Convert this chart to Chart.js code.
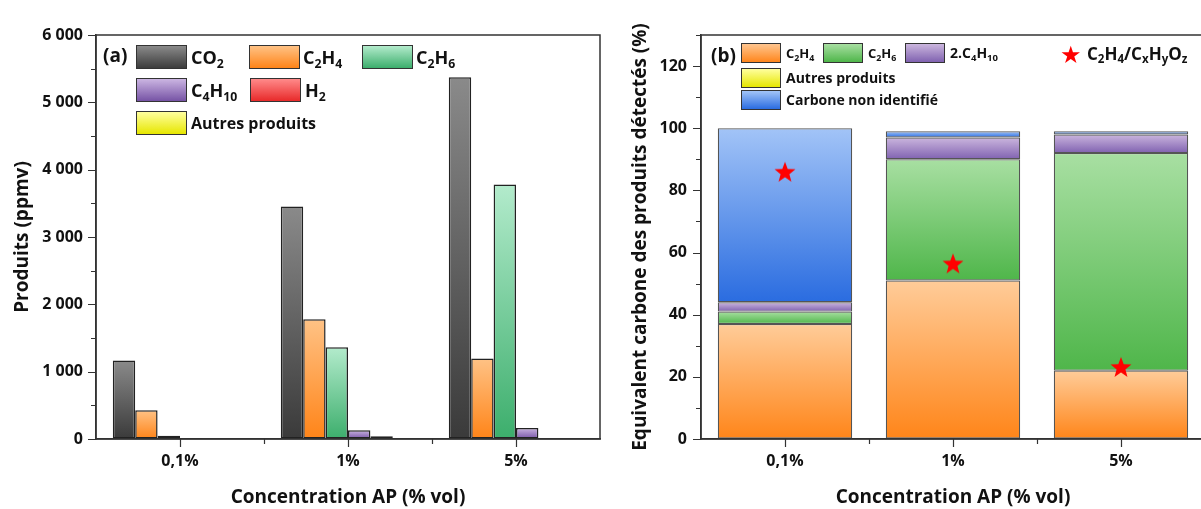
<!DOCTYPE html>
<html>
<head>
<meta charset="utf-8">
<script src="https://cdn.jsdelivr.net/npm/chart.js@4.4.1/dist/chart.umd.min.js"></script>
<style>
  body { margin: 0; width: 1201px; height: 509px; overflow: hidden; background: #fff; position: relative;
         font-family: 'Open Sans', sans-serif; font-weight: 700; color: #111; }
  #boxA { position: absolute; left: 0; top: 0; width: 610px; height: 509px; }
  #boxB { position: absolute; left: 610px; top: 0; width: 600px; height: 509px; }
  .lg { position: absolute; white-space: nowrap; }
  .sw { position: absolute; border: 1px solid #333; box-sizing: border-box; }
  sub { font-size: 68%; vertical-align: -0.3em; line-height: 0; }
</style>
</head>
<body>
<div id="boxA"><canvas id="chartA" width="610" height="509"></canvas></div>
<div id="boxB"><canvas id="chartB" width="600" height="509"></canvas></div>

<!-- legend (a) -->
<div class="lg" style="left:103px;top:43px;font-size:19px;line-height:24px;">(a)</div>
<div class="sw" style="left:136px;top:45px;width:51px;height:24px;background:linear-gradient(#8a8a8a,#3c3c3c);"></div>
<div class="lg" style="left:191px;top:45px;font-size:18px;line-height:24px;">CO<sub>2</sub></div>
<div class="sw" style="left:249px;top:45px;width:51px;height:24px;background:linear-gradient(#ffc285,#ff8418);"></div>
<div class="lg" style="left:303px;top:45px;font-size:18px;line-height:24px;">C<sub>2</sub>H<sub>4</sub></div>
<div class="sw" style="left:362px;top:45px;width:51px;height:24px;background:linear-gradient(#b3ebcc,#3cae6c);"></div>
<div class="lg" style="left:416px;top:45px;font-size:18px;line-height:24px;">C<sub>2</sub>H<sub>6</sub></div>
<div class="sw" style="left:136px;top:78px;width:51px;height:24px;background:linear-gradient(#cbb5e2,#7653a5);"></div>
<div class="lg" style="left:191px;top:78px;font-size:18px;line-height:24px;">C<sub>4</sub>H<sub>10</sub></div>
<div class="sw" style="left:250px;top:78px;width:51px;height:24px;background:linear-gradient(#ff8a8a,#e82a2a);"></div>
<div class="lg" style="left:305px;top:78px;font-size:18px;line-height:24px;">H<sub>2</sub></div>
<div class="sw" style="left:136px;top:111px;width:51px;height:24px;background:linear-gradient(#ffff9e,#e6e600);"></div>
<div class="lg" style="left:191px;top:111px;font-size:16px;line-height:24px;">Autres produits</div>

<!-- legend (b) -->
<div class="lg" style="left:711px;top:43px;font-size:19px;line-height:24px;">(b)</div>
<div class="sw" style="left:741px;top:43px;width:40px;height:20px;background:linear-gradient(#ffc690,#ff861c);"></div>
<div class="lg" style="left:786px;top:43px;font-size:13px;line-height:20px;">C<sub>2</sub>H<sub>4</sub></div>
<div class="sw" style="left:823px;top:43px;width:40px;height:20px;background:linear-gradient(#a8dfa2,#4fb64a);"></div>
<div class="lg" style="left:868px;top:43px;font-size:13px;line-height:20px;">C<sub>2</sub>H<sub>6</sub></div>
<div class="sw" style="left:905px;top:43px;width:40px;height:20px;background:linear-gradient(#cbb6de,#8062b0);"></div>
<div class="lg" style="left:950px;top:43px;font-size:14px;line-height:20px;">2.C<sub>4</sub>H<sub>10</sub></div>
<div class="sw" style="left:741px;top:68px;width:40px;height:20px;background:linear-gradient(#ffff9e,#e6e600);"></div>
<div class="lg" style="left:786px;top:68px;font-size:14px;line-height:20px;">Autres produits</div>
<div class="sw" style="left:741px;top:90px;width:40px;height:20px;background:linear-gradient(#a2c4f7,#2a6ce0);"></div>
<div class="lg" style="left:786px;top:90px;font-size:14px;line-height:20px;">Carbone non identifié</div>
<div class="lg" style="left:1060px;top:41px;font-size:24px;line-height:28px;color:#ff0000;font-family:'DejaVu Sans';">★</div>
<div class="lg" style="left:1087px;top:42px;font-size:17px;line-height:24px;">C<sub>2</sub>H<sub>4</sub>/C<sub>x</sub>H<sub>y</sub>O<sub>z</sub></div>

<script>
//Data
var categories = ['0,1%', '1%', '5%'];

// (a) products in ppmv
var co2 = [1164, 3453, 5372];
var c2h4 = [426, 1778, 1194];
var c2h6 = [50, 1362, 3780];
var c4h10 = [15, 130, 164];
var h2 = [10, 40, 10];
var autresA = [3, 2, 3];

// (b) carbon equivalent in %
var c2h4Pct = [37, 51, 22];
var c2h6Pct = [4, 39, 70];
var c4h10Pct = [3, 7, 6];
var autresPct = [0, 0, 0];
var nonIdentPct = [56, 2, 1];
var ratioStar = [86, 56.5, 23.2];

var FONT = "'Open Sans', sans-serif";

//Vertical gradient per bar, from top colour to bottom colour
function gradFill(colors, bases) {
  return function (c) {
    var chart = c.chart;
    if (!chart.chartArea || c.type !== 'data') return colors[1];
    var y = chart.scales.y;
    var lo = bases ? bases[c.dataIndex] : 0;
    var hi = lo + c.raw;
    var top = y.getPixelForValue(hi);
    var bot = y.getPixelForValue(lo);
    if (bot - top < 1) return colors[1];
    var g = chart.ctx.createLinearGradient(0, top, 0, bot);
    g.addColorStop(0, colors[0]);
    g.addColorStop(1, colors[1]);
    return g;
  };
}

//Sum of the series below a stacked series
function sumOf(list) {
  var out = [];
  for (var i = 0; i < categories.length; i++) {
    var s = 0;
    for (var k = 0; k < list.length; k++) s += list[k][i];
    out.push(s);
  }
  return out;
}

//Frame + tick marks (major and minor)
var frameTicks = {
  id: 'frameTicks',
  afterDraw: function (chart, args, opts) {
    var ctx = chart.ctx;
    var a = chart.chartArea;
    var x = chart.scales.x;
    var y = chart.scales.y;
    ctx.save();
    ctx.strokeStyle = '#333';
    ctx.lineWidth = 1.5;
    ctx.strokeRect(a.left, a.top, a.right - a.left, a.bottom - a.top);
    ctx.lineWidth = 1.2;
    ctx.beginPath();
    for (var v = 0; v <= y.max + 1e-6; v += opts.minor) {
      var py = Math.round(y.getPixelForValue(v)) + 0.5;
      var len = (Math.abs(v % opts.major) < 1e-6) ? 8 : 5;
      ctx.moveTo(a.left - len, py);
      ctx.lineTo(a.left, py);
    }
    for (var i = 0; i < categories.length; i++) {
      var px = Math.round(x.getPixelForValue(i)) + 0.5;
      ctx.moveTo(px, a.bottom);
      ctx.lineTo(px, a.bottom + 8);
      if (i > 0) {
        var mx = Math.round((x.getPixelForValue(i) + x.getPixelForValue(i - 1)) / 2) + 0.5;
        ctx.moveTo(mx, a.bottom);
        ctx.lineTo(mx, a.bottom + 5);
      }
    }
    ctx.stroke();
    ctx.restore();
  }
};

//Five point star used as point style
function makeStar(size) {
  var cv = document.createElement('canvas');
  cv.width = size;
  cv.height = size;
  var g = cv.getContext('2d');
  var r = size / 2;
  g.beginPath();
  for (var i = 0; i < 10; i++) {
    var rad = (i % 2 === 0) ? r : r * 0.42;
    var ang = -Math.PI / 2 + i * Math.PI / 5;
    g.lineTo(r + rad * Math.cos(ang), r + 1 + rad * Math.sin(ang));
  }
  g.closePath();
  g.fillStyle = '#ff0000';
  g.fill();
  return cv;
}

function xAxis() {
  return {
    grid: { drawOnChartArea: false, drawTicks: false },
    border: { display: true, color: '#333', width: 1.5 },
    ticks: { color: '#111', padding: 13, font: { family: FONT, weight: 'bold', size: 16 } },
    title: { display: true, text: 'Concentration AP (% vol)', color: '#111',
             padding: { top: 0, bottom: 0 }, font: { family: FONT, weight: 'bold', size: 19 } },
    afterFit: function (s) {
      s.height = 70;
      s.paddingLeft = 0;
      s.paddingRight = 0;
    }
  };
}

//Chart (a)
var barA = { borderColor: '#222', borderWidth: 1.5, borderSkipped: false, categoryPercentage: 0.8, barPercentage: 1 };

new Chart(document.getElementById('chartA'), {
  type: 'bar',
  data: {
    labels: categories,
    datasets: [
      Object.assign({ label: 'CO2', data: co2, backgroundColor: gradFill(['#8a8a8a', '#3a3a3a']) }, barA),
      Object.assign({ label: 'C2H4', data: c2h4, backgroundColor: gradFill(['#ffc285', '#ff8418']) }, barA),
      Object.assign({ label: 'C2H6', data: c2h6, backgroundColor: gradFill(['#b3ebcc', '#3cae6c']) }, barA),
      Object.assign({ label: 'C4H10', data: c4h10, backgroundColor: gradFill(['#cbb5e2', '#7653a5']) }, barA),
      Object.assign({ label: 'H2', data: h2, backgroundColor: gradFill(['#ff8a8a', '#e82a2a']) }, barA),
      Object.assign({ label: 'Autres produits', data: autresA, backgroundColor: gradFill(['#ffff9e', '#e6e600']) }, barA)
    ]
  },
  options: {
    responsive: false,
    animation: false,
    layout: { autoPadding: false, padding: { top: 35, right: 10, left: 0, bottom: 0 } },
    plugins: { legend: { display: false }, tooltip: { enabled: false },
               frameTicks: { major: 1000, minor: 500 } },
    scales: {
      x: xAxis(),
      y: {
        min: 0, max: 6000,
        grid: { drawOnChartArea: false, drawTicks: false },
        border: { display: true, color: '#333', width: 1.5 },
        ticks: { stepSize: 1000, padding: 13, color: '#111', font: { family: FONT, weight: 'bold', size: 16 },
                 callback: function (v) { return String(v).replace(/\B(?=(\d{3})+(?!\d))/g, ' '); } },
        title: { display: true, text: 'Produits (ppmv)', color: '#111', padding: { top: 11, bottom: 0 },
                 font: { family: FONT, weight: 'bold', size: 19 } },
        afterFit: function (s) { s.width = 96; }
      }
    }
  },
  plugins: [frameTicks]
});

//Chart (b)
var barB = { borderColor: '#555', borderWidth: 1.2, borderSkipped: false, categoryPercentage: 0.8, barPercentage: 1, stack: 'carbone' };

new Chart(document.getElementById('chartB'), {
  type: 'bar',
  data: {
    labels: categories,
    datasets: [
      { type: 'line', label: 'C2H4/CxHyOz', data: ratioStar, stack: 'star', order: -1, showLine: false,
        pointStyle: makeStar(22), pointRadius: 11 },
      Object.assign({ label: 'C2H4', data: c2h4Pct,
        backgroundColor: gradFill(['#ffcc99', '#ff8519']) }, barB),
      Object.assign({ label: 'C2H6', data: c2h6Pct,
        backgroundColor: gradFill(['#a8dfa2', '#4fb64a'], sumOf([c2h4Pct])) }, barB),
      Object.assign({ label: '2.C4H10', data: c4h10Pct,
        backgroundColor: gradFill(['#cbb6de', '#8062b0'], sumOf([c2h4Pct, c2h6Pct])) }, barB),
      Object.assign({ label: 'Autres produits', data: autresPct,
        backgroundColor: gradFill(['#ffff9e', '#e6e600'], sumOf([c2h4Pct, c2h6Pct, c4h10Pct])) }, barB),
      Object.assign({ label: 'Carbone non identifié', data: nonIdentPct,
        backgroundColor: gradFill(['#a2c4f7', '#2a6ce0'], sumOf([c2h4Pct, c2h6Pct, c4h10Pct, autresPct])) }, barB)
    ]
  },
  options: {
    responsive: false,
    animation: false,
    layout: { autoPadding: false, padding: { top: 35, right: 5, left: 0, bottom: 0 } },
    plugins: { legend: { display: false }, tooltip: { enabled: false },
               frameTicks: { major: 20, minor: 10 } },
    scales: {
      x: xAxis(),
      y: {
        stacked: true,
        min: 0, max: 130,
        grid: { drawOnChartArea: false, drawTicks: false },
        border: { display: true, color: '#333', width: 1.5 },
        ticks: { stepSize: 20, includeBounds: false, padding: 14, color: '#111',
                 font: { family: FONT, weight: 'bold', size: 16 } },
        title: { display: true, text: 'Equivalent carbone des produits détectés (%)', color: '#111',
                 padding: { top: 19, bottom: 0 }, font: { family: FONT, weight: 'bold', size: 19 } },
        afterFit: function (s) { s.width = 91; }
      }
    }
  },
  plugins: [frameTicks]
});
</script>
</body>
</html>
